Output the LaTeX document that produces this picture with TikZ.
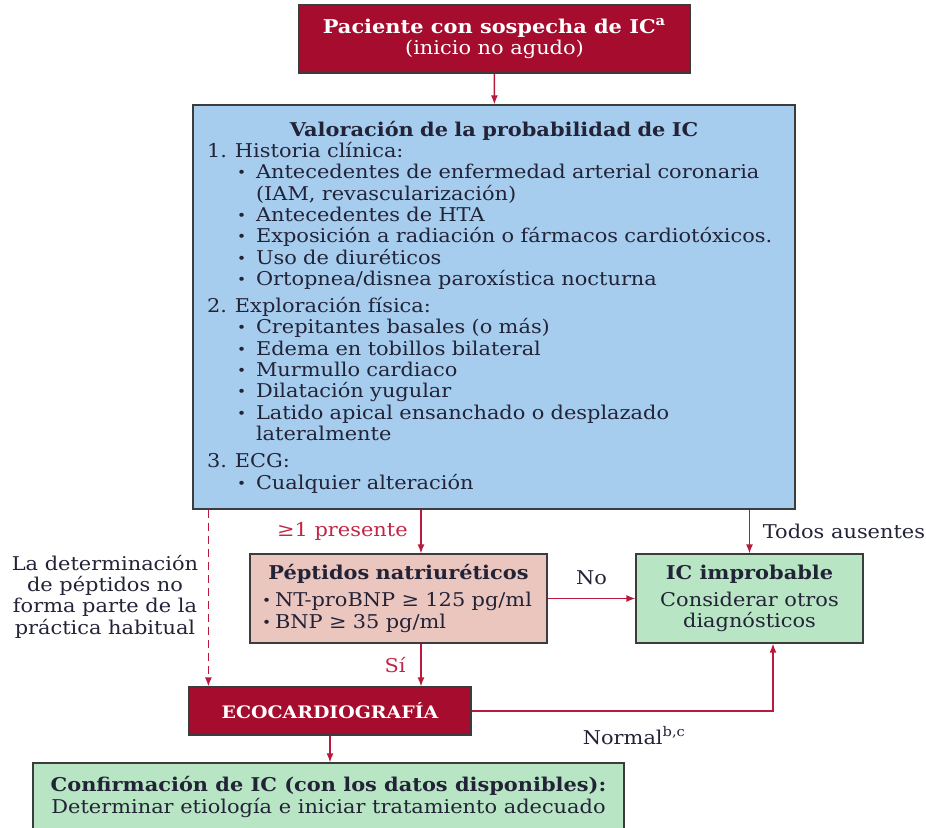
\documentclass[tikz,border=0pt]{standalone}
\usepackage{fontspec}
\setmainfont{DejaVu Serif}[FakeStretch=1.1]
\usetikzlibrary{arrows.meta}

\definecolor{ecored}{RGB}{165,12,45}
\definecolor{valblue}{RGB}{167,205,238}
\definecolor{peppink}{RGB}{235,198,191}
\definecolor{okgreen}{RGB}{184,229,195}
\definecolor{arrred}{RGB}{185,25,60}
\definecolor{labred}{RGB}{192,38,70}
\definecolor{ink}{RGB}{35,35,56}
\definecolor{boxline}{RGB}{60,60,60}

% lines of the lists
\newcommand{\secline}[2]{\makebox[14pt][l]{#1}#2}
\newcommand{\bulline}[1]{\hspace*{15pt}\makebox[9.5pt][l]{\raisebox{0.5pt}{\scriptsize\textbullet}}#1}
\newcommand{\contline}[1]{\hspace*{24.5pt}#1}
\newcommand{\pepline}[1]{\makebox[6.5pt][l]{\raisebox{0.5pt}{\scriptsize\textbullet}}#1}

\begin{document}
\begin{tikzpicture}[x=0.5pt,y=-0.5pt,
    box/.style={draw=boxline, line width=0.6pt, inner sep=0pt, text=ink},
    arr/.style={-{Latex[length=4.5pt,width=3.5pt]}, draw=arrred, line width=0.7pt},
    every node/.style={font=\fontsize{9.5}{10.65}\selectfont}]
    \useasboundingbox (0,0) rectangle (926,828);

    % Define nodes for the diagram
    \node[box, fill=ecored, text=white, minimum width=195.5pt, minimum height=34pt, align=center] (paciente) at (494.5,39)
        {\textbf{Paciente con sospecha de IC\textsuperscript{a}}\\(inicio no agudo)};

    \node[box, fill=valblue, minimum width=301pt, minimum height=202pt, text width=287pt, inner xsep=7pt, align=left] (valoracion) at (494,307) {%
        \makebox[287pt][c]{\bfseries Valoración de la probabilidad de IC}\\
        \secline{1.}{Historia clínica:}\\
        \bulline{Antecedentes de enfermedad arterial coronaria}\\
        \contline{(IAM, revascularización)}\\
        \bulline{Antecedentes de HTA}\\
        \bulline{Exposición a radiación o fármacos cardiotóxicos.}\\
        \bulline{Uso de diuréticos}\\
        \bulline{Ortopnea/disnea paroxística nocturna}\\[3pt]
        \secline{2.}{Exploración física:}\\
        \bulline{Crepitantes basales (o más)}\\
        \bulline{Edema en tobillos bilateral}\\
        \bulline{Murmullo cardiaco}\\
        \bulline{Dilatación yugular}\\
        \bulline{Latido apical ensanchado o desplazado}\\
        \contline{lateralmente}\\[3pt]
        \secline{3.}{ECG:}\\
        \bulline{Cualquier alteración}};

    \node[box, fill=peppink, minimum width=148.5pt, minimum height=44.5pt, text width=136.5pt, inner xsep=6pt, align=left] (peptidos) at (398.5,598.5) {%
        \makebox[136.5pt][c]{\bfseries Péptidos natriuréticos}\\[3pt]
        \pepline{NT-proBNP ≥ 125 pg/ml}\\
        \pepline{BNP ≥ 35 pg/ml}};

    \node[box, fill=okgreen, minimum width=113.5pt, minimum height=44.5pt, align=center] (improbable) at (749.5,598.5)
        {\textbf{IC improbable}\\[3pt]Considerar otros\\diagnósticos};

    \node[box, fill=ecored, text=white, minimum width=141pt, minimum height=24pt, font=\fontsize{8.6}{10}\selectfont\bfseries] (eco) at (330,711) {ECOCARDIOGRAFÍA};

    \node[box, fill=okgreen, minimum width=295.5pt, minimum height=34pt, align=center] (confirmacion) at (328.5,797)
        {\textbf{Confirmación de IC (con los datos disponibles):}\\Determinar etiología e iniciar tratamiento adecuado};

    \node[text=ink, align=center] (nota) at (105,596.5) {La determinación\\de péptidos no\\forma parte de la\\práctica habitual};

    % Draw the connections
    \draw[arr] (paciente) -- (valoracion);
    \draw[arr] ([xshift=11.25pt]peptidos.north |- valoracion.south) -- node[left=3pt, text=labred] {≥1 presente} ([xshift=11.25pt]peptidos.north);
    \draw[arr] (improbable.north |- valoracion.south) -- node[right=3pt, text=ink] {Todos ausentes} (improbable.north);
    \draw[arr] (peptidos.east) -- node[above=3pt, text=ink] {No} (improbable.west);
    \draw[arr, dashed, dash pattern=on 4pt off 2.5pt] ([xshift=10pt]eco.north west |- valoracion.south) -- ([xshift=10pt]eco.north west);
    \draw[arr] ([xshift=11.25pt]peptidos.south) -- node[left=4pt, text=labred] {Sí} ([xshift=11.25pt]peptidos.south |- eco.north);
    \draw[arr] (eco.east) -| node[below=4pt, pos=0.27, text=ink] {Normal\textsuperscript{b,c}} ([xshift=11.75pt]improbable.south);
    \draw[arr] (eco.south) -- (eco.south |- confirmacion.north);
\end{tikzpicture}
\end{document}
